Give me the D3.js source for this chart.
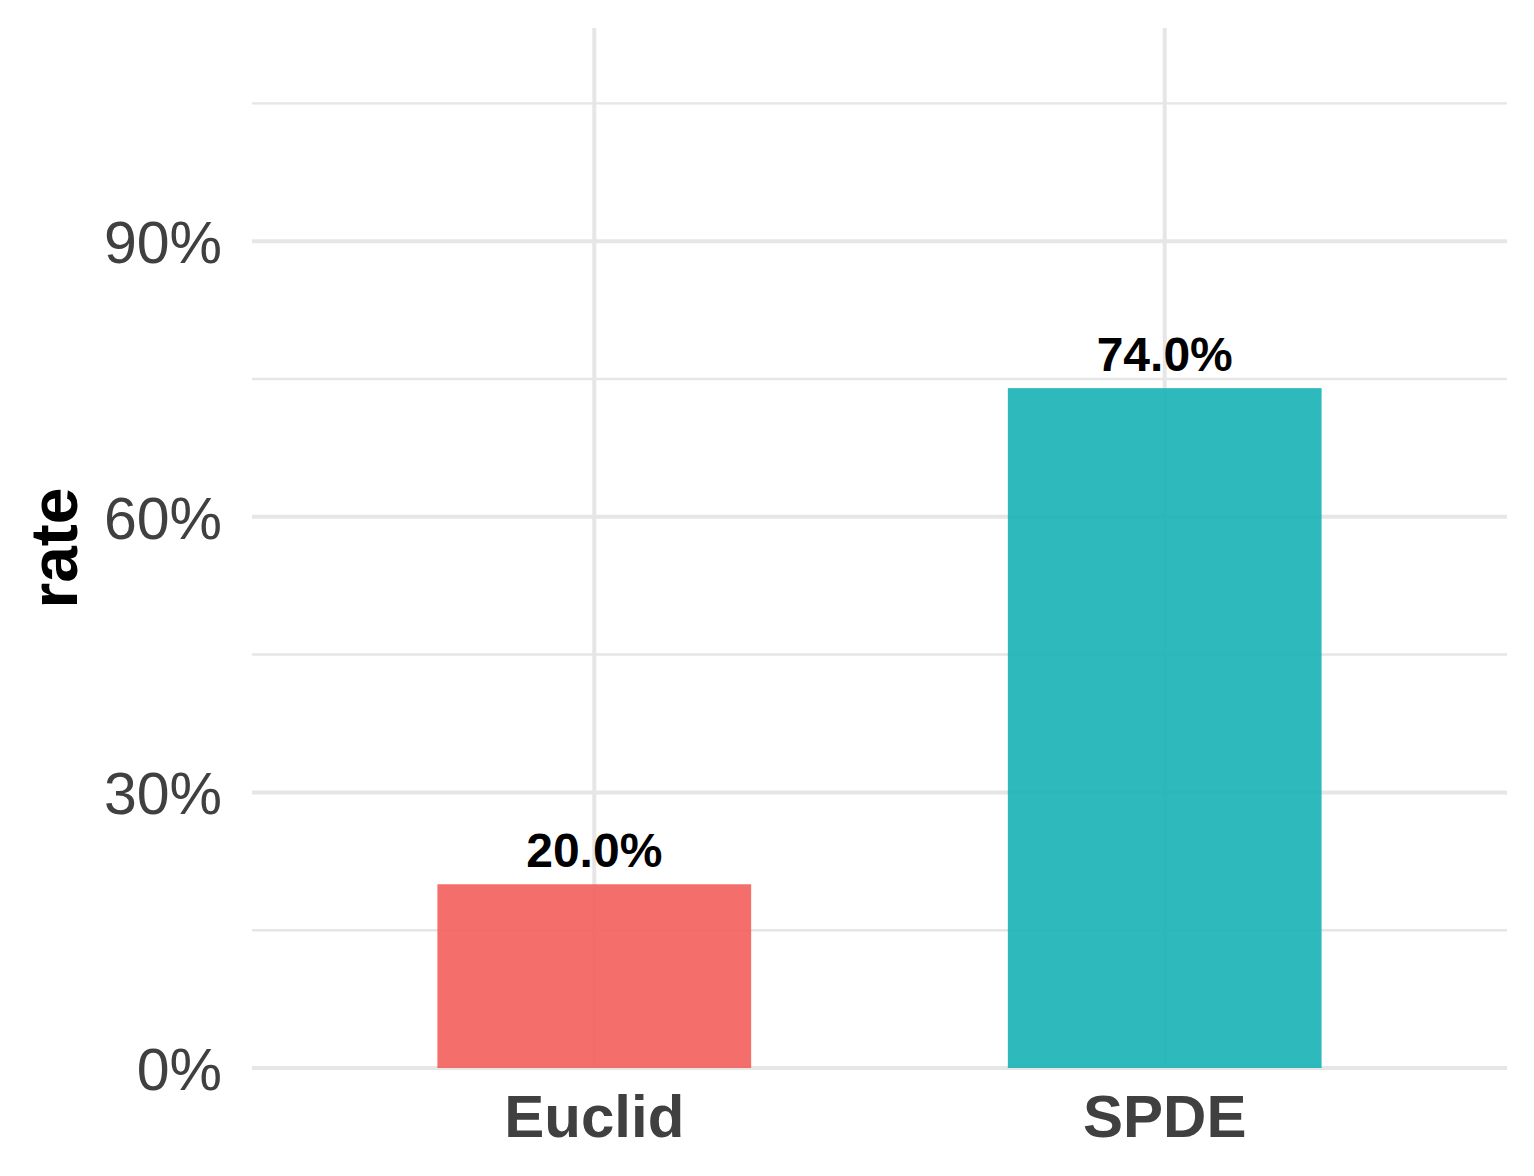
<!DOCTYPE html>
<html>
<head>
<meta charset="utf-8">
<script src="https://cdn.jsdelivr.net/npm/d3@7"></script>
<style>
body { margin: 0; background: #fff; }
svg text { font-family: "Liberation Sans", Arial, sans-serif; }
</style>
</head>
<body>
<div id="container"></div>
<script>

var methods = ["Euclid", "SPDE"];
var rates = [0.20, 0.74];
var barColors = ["#F35E5B", "#17B2B6"];
var majorTicks = [0, 0.3, 0.6, 0.9];
var minorTicks = [0.15, 0.45, 0.75, 1.05];


function drawit() {
	var width = 1534, height = 1176;
	var panel = {left: 252, right: 1507, top: 28, bottom: 1068};

	var svg = d3.select("#container")
		.append("svg")
		.attr("width", width)
		.attr("height", height);

	// discrete x with ggplot style 0.6 expansion
	var x = d3.scaleLinear()
		.domain([0.4, methods.length + 0.6])
		.range([panel.left, panel.right]);
	var y = d3.scaleLinear()
		.domain([0, 1.132])
		.range([panel.bottom, panel.top]);
	var barw = x(1.55) - x(1);

	// grid
	svg.selectAll("line.minor")
		.data(minorTicks)
		.enter()
		.append("line")
		.attr("x1", panel.left).attr("x2", panel.right)
		.attr("y1", function(d) { return y(d); })
		.attr("y2", function(d) { return y(d); })
		.attr("stroke", "#E6E6E6")
		.attr("stroke-width", 2.4);
	svg.selectAll("line.major")
		.data(majorTicks)
		.enter()
		.append("line")
		.attr("x1", panel.left).attr("x2", panel.right)
		.attr("y1", function(d) { return y(d); })
		.attr("y2", function(d) { return y(d); })
		.attr("stroke", "#E6E6E6")
		.attr("stroke-width", 4);
	svg.selectAll("line.vgrid")
		.data(methods)
		.enter()
		.append("line")
		.attr("x1", function(d, i) { return x(i + 1); })
		.attr("x2", function(d, i) { return x(i + 1); })
		.attr("y1", panel.top).attr("y2", panel.bottom)
		.attr("stroke", "#E6E6E6")
		.attr("stroke-width", 4);

	// bars
	svg.selectAll("rect.bar")
		.data(rates)
		.enter()
		.append("rect")
		.attr("x", function(d, i) { return x(i + 1) - barw / 2; })
		.attr("y", function(d) { return y(d); })
		.attr("width", barw)
		.attr("height", function(d) { return y(0) - y(d); })
		.attr("fill", function(d, i) { return barColors[i]; })
		.attr("fill-opacity", 0.9);

	// value labels
	svg.selectAll("text.val")
		.data(rates)
		.enter()
		.append("text")
		.attr("x", function(d, i) { return x(i + 1); })
		.attr("y", function(d) { return y(d) - 17; })
		.attr("text-anchor", "middle")
		.attr("font-size", 48)
		.attr("font-weight", "bold")
		.attr("fill", "#000")
		.text(function(d) { return d3.format(".1%")(d); });

	// y tick labels
	svg.selectAll("text.ytick")
		.data(majorTicks)
		.enter()
		.append("text")
		.attr("x", 222)
		.attr("y", function(d) { return y(d) + 22; })
		.attr("text-anchor", "end")
		.attr("font-size", 59)
		.attr("fill", "#404040")
		.text(function(d) { return d3.format(".0%")(d); });

	// x tick labels
	svg.selectAll("text.xtick")
		.data(methods)
		.enter()
		.append("text")
		.attr("x", function(d, i) { return x(i + 1); })
		.attr("y", 1137)
		.attr("text-anchor", "middle")
		.attr("font-size", 60)
		.attr("font-weight", "bold")
		.attr("fill", "#404040")
		.text(function(d) { return d; });

	// y title
	svg.append("text")
		.attr("transform", "translate(77," + ((panel.top + panel.bottom) / 2) + ") rotate(-90)")
		.attr("text-anchor", "middle")
		.attr("font-size", 66)
		.attr("font-weight", "bold")
		.attr("fill", "#000")
		.text("rate");
};

drawit();
</script>
</body>
</html>
